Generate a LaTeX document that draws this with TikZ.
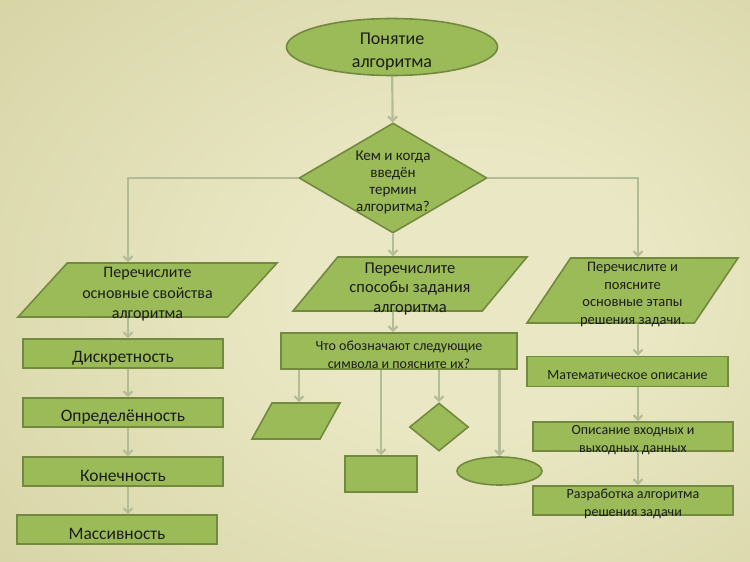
\documentclass[tikz,border=0pt]{standalone}
\usepackage{fontspec}
\setmainfont{Carlito}
\usetikzlibrary{arrows.meta,shapes.geometric}
\definecolor{bglight}{HTML}{EAE8C4}
\definecolor{bgmid}{HTML}{D5D2A3}
\definecolor{bgdark}{HTML}{A9A86E}
\definecolor{leaf}{HTML}{9BBB59}
\definecolor{leafedge}{HTML}{72893F}
\definecolor{wire}{HTML}{B4BC97}
\definecolor{ink}{HTML}{1C1C1C}
\pgfdeclareradialshading{slidebg}{\pgfpoint{8bp}{-1bp}}{color(0bp)=(bglight); color(12bp)=(bglight); color(42bp)=(bgmid); color(62bp)=(bgdark); color(75bp)=(bgdark)}
\pgfdeclarelayer{backdrop}
\pgfdeclarelayer{wires}
\pgfsetlayers{backdrop,wires,main}
% taller first line, so the text sits a little low in its shape
\newcommand\lift{\rule{0pt}{1.2em}}

\begin{document}
\begin{tikzpicture}[
  x=1pt,
  y=-1pt,
  shapebox/.style={draw=leafedge, fill=leaf, line width=1.6pt, text=ink, align=center,
    inner sep=0pt, execute at begin node=\lift},
  boxnode/.style={shapebox, rectangle},
  paranode/.style={shapebox, trapezium, trapezium stretches body},
  wire/.style={-{Straight Barb[length=4.5pt,width=9pt]}, line width=2.2pt, draw=wire}
]
  \begin{pgfonlayer}{backdrop}
    \shade[shading=slidebg] (0,0) rectangle (750,562);
  \end{pgfonlayer}

  % top of the chart
  \node[shapebox, ellipse, minimum width=211, minimum height=57, inner ysep=-5pt,
    font=\fontsize{18}{23}\selectfont] (start) at (392,47) {\lift Понятие\\алгоритма};
  \node[shapebox, diamond, aspect=1.71, minimum width=188, minimum height=110,
    inner ysep=-4pt, font=\fontsize{15}{17}\selectfont] (ask) at (393,178)
    {\lift Кем и когда\\введён\\термин\\алгоритма?};

  \node[paranode, trapezium left angle=47, trapezium right angle=133,
    minimum width=259, minimum height=54, inner ysep=-5pt,
    font=\fontsize{16}{20.5}\selectfont] (props) at (147.5,290)
    {\lift Перечислите\\основные свойства\\алгоритма};
  \node[paranode, trapezium left angle=49, trapezium right angle=131,
    minimum width=234, minimum height=54, inner ysep=-5pt,
    font=\fontsize{16.5}{19.5}\selectfont] (ways) at (410,284)
    {\lift Перечислите\\способы задания\\алгоритма};
  \node[paranode, trapezium left angle=55, trapezium right angle=125,
    minimum width=211, minimum height=65, inner ysep=-5pt,
    font=\fontsize{14.5}{17.5}\selectfont] (steps) at (632.5,290.5)
    {\lift Перечислите и\\поясните\\основные этапы\\решения задачи.};

  % left column
  \node[boxnode, minimum width=200, minimum height=29,
    font=\fontsize{17.5}{20}\selectfont] (discr) at (123,353.5) {Дискретность};
  \node[boxnode, minimum width=200, minimum height=29,
    font=\fontsize{17.5}{20}\selectfont] (determ) at (123,412.5) {Определённость};
  \node[boxnode, minimum width=200, minimum height=29,
    font=\fontsize{17.5}{20}\selectfont] (finite) at (123,471.5) {Конечность};
  \node[boxnode, minimum width=200, minimum height=29,
    font=\fontsize{17.5}{20}\selectfont] (mass) at (117,529.5) {Массивность};

  % middle column
  \node[boxnode, minimum width=236, minimum height=36, inner ysep=-2pt,
    font=\fontsize{14}{18}\selectfont] (symq) at (399,351)
    {\lift Что обозначают следующие\\символа и поясните их?};
  \node[paranode, trapezium left angle=61, trapezium right angle=119,
    minimum width=88, inner ysep=12pt] (sio) at (296,421) {};
  \node[boxnode, minimum width=72, minimum height=36] (sact) at (381,474) {};
  \node[shapebox, diamond, minimum width=59, minimum height=48] (scond) at (439,427) {};
  \node[shapebox, ellipse, minimum width=85, minimum height=28] (send) at (499.5,471) {};

  % right column
  \node[boxnode, minimum width=201, minimum height=30,
    font=\fontsize{14}{18}\selectfont] (math) at (627.5,371.5) {Математическое описание};
  \node[boxnode, minimum width=200, minimum height=29, inner ysep=-5pt,
    font=\fontsize{14}{18}\selectfont] (iodata) at (633,436.5)
    {\lift Описание входных и\\выходных данных};
  \node[boxnode, minimum width=200, minimum height=29, inner ysep=-5pt,
    font=\fontsize{14}{18}\selectfont] (algdev) at (633,500.5)
    {\lift Разработка алгоритма\\решения задачи};

  \coordinate (lx) at (128,180);
  \coordinate (rx) at (638,180);
  \coordinate (col1) at (299,0);

  \begin{pgfonlayer}{wires}
    \draw[wire] (start) -- (ask);
    \draw[wire] (ask.west) -| (props.north -| lx);
    \draw[wire] (ask.south) -- (ways.north -| ask.south);
    \draw[wire] (ask.east) -| (steps.north -| rx);
    \draw[wire] (ways.south -| ask.south) -- (symq.north -| ask.south);

    \foreach \a/\b in {props/discr,discr/determ,determ/finite,finite/mass}
      \draw[wire] (\a.south -| lx) -- (\b.north -| lx);
    \foreach \a/\b in {steps/math,math/iodata,iodata/algdev}
      \draw[wire] (\a.south -| rx) -- (\b.north -| rx);

    \draw[wire] (symq.south -| col1) -- (sio.north -| col1);
    \foreach \b in {sact,scond,send}
      \draw[wire] (symq.south -| \b.north) -- (\b.north);
  \end{pgfonlayer}
\end{tikzpicture}
\end{document}
